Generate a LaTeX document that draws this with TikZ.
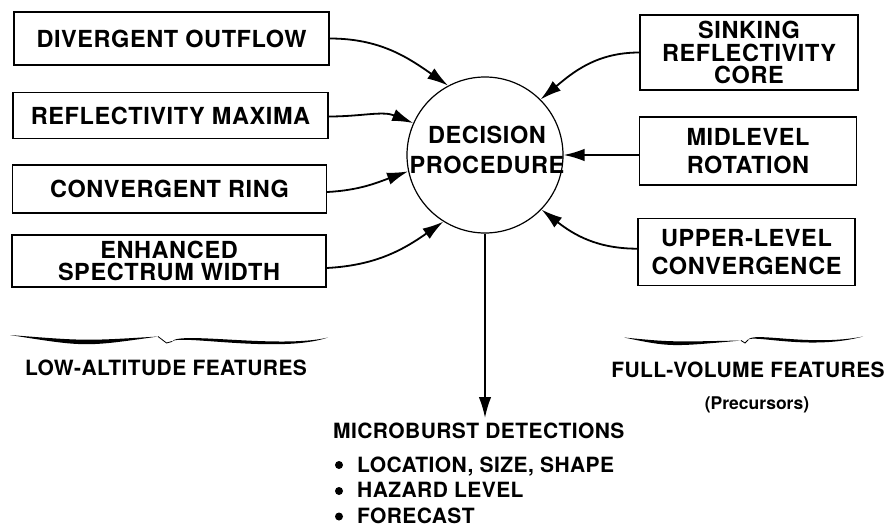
\documentclass[tikz,border=0pt]{standalone}
\usepackage{fontspec}
\setmainfont{TeX Gyre Heros}
\newfontfamily\boxfamily[LetterSpace=2.5]{TeX Gyre Heros}
\newfontfamily\lowfamily[LetterSpace=2]{TeX Gyre Heros}
\usetikzlibrary{arrows.meta}
\newcommand\boxfont{\boxfamily\fontsize{23.5}{22.5}\selectfont\bfseries}
\newcommand\lowfont{\lowfamily\fontsize{21}{24}\selectfont\bfseries}
\newcommand\precfont{\fontsize{17.5}{18}\selectfont\bfseries}
\begin{document}
\begin{tikzpicture}[x=1pt,y=1pt,
  box/.style={draw, line width=1.3pt, inner sep=0pt, align=center, font=\boxfont},
  conn/.style={line width=1.8pt, -{Latex[length=21pt,width=12.5pt]}},
  lbl/.style={inner sep=0pt, font=\lowfont},
  bracefill/.style={fill=black, draw=none},
  cusp/.style={line width=0.8pt}
]
\useasboundingbox (0,0) rectangle (886,-527);

% left boxes
\node[box, minimum width=315pt, minimum height=53pt] (L1) at (171.5,-38.5) {DIVERGENT OUTFLOW};
\node[box, minimum width=315pt, minimum height=46pt] (L2) at (170.5,-115.5) {REFLECTIVITY MAXIMA};
\node[box, minimum width=314pt, minimum height=48pt] (L3) at (169.5,-189) {CONVERGENT RING};
\node[box, minimum width=314pt, minimum height=52pt] (L4) at (169,-261) {ENHANCED\\SPECTRUM WIDTH};

% right boxes
\node[box, minimum width=218pt, minimum height=75pt] (R1) at (749,-52.5) {SINKING\\REFLECTIVITY\\CORE};
\node[box, minimum width=217pt, minimum height=68pt] (R2) at (748,-151) {MIDLEVEL\\[5pt]ROTATION};
\node[box, minimum width=217pt, minimum height=67pt] (R3) at (746.5,-251.7) {UPPER-LEVEL\\[5.5pt]CONVERGENCE};

% decision circle
\node[circle, draw, line width=1.2pt, minimum size=156pt, inner sep=0pt] (dp) at (485,-155) {};
\node[align=center, inner sep=0pt, font=\boxfont] (dptext) at (487,-150) {DECISION\\[7pt]PROCEDURE};

% connectors
\draw[conn] (L1.east) to[out=0,in=145] (dp.118);
\draw[conn] ([yshift=-1pt]L2.east) to[out=0,in=158] (dp.156);
\draw[conn] ([yshift=-3pt]L3.east) to[out=3,in=200] (dp.192);
\draw[conn] ([yshift=-7pt]L4.east) to[out=3,in=215] (dp.238);
\draw[conn] (R1.west) to[out=180,in=40] (dp.45);
\draw[conn] (R2.west |- dp.east) -- (dp.east);
\draw[conn] ([yshift=3pt]R3.west) to[out=180,in=-38] (dp.-44.5);
\coordinate (mbend) at (485,-418);
\draw[conn] (dp.south) -- (mbend);

% left brace
\fill[bracefill] (10,-335) .. controls (85,-341) .. (158,-336.5)
  .. controls (85,-347) .. (10,-335) -- cycle;
\draw[cusp] (158,-336.5) -- (166.5,-343) -- (172,-341.5);
\fill[bracefill] (172,-341.5) .. controls (178,-331) and (280,-349) .. (328,-337.5)
  .. controls (280,-354) and (178,-334) .. (172,-341.5) -- cycle;

% right brace
\fill[bracefill] (624,-337.5) .. controls (670,-342) .. (741,-340.5)
  .. controls (670,-347) .. (624,-337.5) -- cycle;
\draw[cusp] (741,-340.5) -- (745,-343) -- (748,-340);
\fill[bracefill] (748,-340) .. controls (752,-331) and (810,-347) .. (863,-336.5)
  .. controls (810,-351) and (752,-334) .. (748,-340) -- cycle;

% labels
\node[lbl, anchor=base] (lowalt) at (166,-375) {LOW-ALTITUDE FEATURES};
\node[lbl, anchor=base] (fullvol) at (748,-377) {FULL-VOLUME FEATURES};
\node[inner sep=0pt, font=\precfont, anchor=base] (prec) at (757,-409) {(Precursors)};

\node[lbl, anchor=base west] (mb) at (333,-438) {MICROBURST DETECTIONS};
\node[lbl, anchor=base west] (it1) at (357,-472) {LOCATION, SIZE, SHAPE};
\node[lbl, anchor=base west] (it2) at (357,-497) {HAZARD LEVEL};
\node[lbl, anchor=base west] (it3) at (357,-523) {FORECAST};
\fill (339,-465) circle (4pt);
\fill (339,-491) circle (4pt);
\fill (339,-516.5) circle (4pt);
\end{tikzpicture}
\end{document}
